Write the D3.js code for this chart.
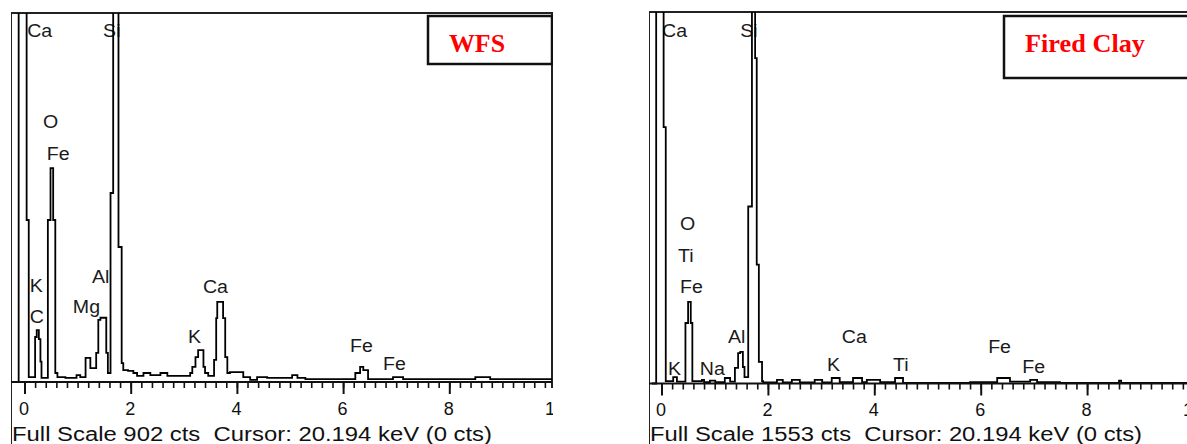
<!DOCTYPE html>
<html>
<head>
<meta charset="utf-8">
<script src="https://cdn.jsdelivr.net/npm/d3@7"></script>
<style>
  body { margin: 0; background: #fff; }
  svg { display: block; }
  .elem { font-family: "Liberation Sans", Arial, sans-serif; font-size: 17.5px; fill: #1a1a1a; }
  .footer { font-family: "Liberation Sans", Arial, sans-serif; font-size: 20px; fill: #111; white-space: pre; }
  .title { font-family: "Liberation Serif", "Times New Roman", serif; font-size: 26px; font-weight: bold; fill: #ff0000; }
</style>
</head>
<body>
<div id="chart"></div>
<script>
var svgWidth = 1187;
var svgHeight = 444;

// spectra: energy (keV) where each step starts, counts of that step
var wfsEnergy = [-0.17, -0.11, 0.04, 0.08, 0.20, 0.23, 0.27, 0.30, 0.32, 0.44,
  0.49, 0.54, 0.58, 0.62, 0.77, 0.98, 1.05, 1.15, 1.24, 1.35,
  1.39, 1.43, 1.54, 1.57, 1.62, 1.67, 1.77, 1.83, 1.86, 1.95,
  2.05, 2.12, 2.24, 2.37, 2.56, 2.69, 3.12, 3.16, 3.22, 3.27,
  3.37, 3.40, 3.46, 3.57, 3.61, 3.63, 3.74, 3.78, 3.82, 3.87,
  4.12, 4.25, 4.38, 4.57, 5.04, 5.14, 5.29, 6.23, 6.32, 6.38,
  6.47, 6.94, 7.13, 8.49, 8.77, 10.5];
var wfsCounts = [0, 3000, 396, 12, 110, 127, 105, 50, 10, 396,
  523, 396, 22, 12, 10, 17, 12, 59, 34, 71,
  152, 157, 71, 22, 462, 3000, 330, 46, 29, 27,
  22, 15, 22, 17, 22, 15, 22, 37, 61, 78,
  37, 22, 15, 54, 156, 196, 156, 61, 22, 24,
  12, 5, 12, 10, 17, 10, 7, 22, 37, 29,
  7, 12, 7, 12, 7, 7];

var clayEnergy = [-0.18, -0.10, 0.04, 0.08, 0.22, 0.29, 0.45, 0.50, 0.55, 0.58,
  0.76, 0.80, 0.91, 1.01, 1.19, 1.29, 1.38, 1.44, 1.48, 1.53,
  1.56, 1.63, 1.70, 1.76, 1.79, 1.83, 1.89, 1.91, 2.17, 2.28,
  2.45, 2.60, 2.88, 3.02, 3.20, 3.35, 3.60, 3.77, 3.86, 4.11,
  4.39, 4.54, 5.80, 6.31, 6.55, 6.93, 7.06, 7.49, 8.60, 8.64,
  10.5];
var clayCounts = [0, 5000, 1072, 10, 27, 8, 253, 341, 253, 10,
  15, 6, 12, 6, 23, 8, 65, 127, 132, 69,
  27, 740, 5000, 1360, 497, 90, 10, 5, 15, 5,
  15, 5, 15, 5, 23, 6, 23, 6, 15, 6,
  23, 3, 6, 23, 8, 15, 6, 2, 12, 2,
  2];

// element markers: text, energy (keV) of left edge, count level of baseline
var wfsLabels = ["Ca", "Si", "O", "Fe", "K", "C", "Mg", "Al", "K", "Ca", "Fe", "Fe"];
var wfsLabelKeV = [0.05, 1.48, 0.35, 0.42, 0.10, 0.10, 0.91, 1.27, 3.08, 3.36, 6.13, 6.75];
var wfsLabelCts = [843, 843, 621, 543, 220, 144, 169, 242, 95, 218, 73, 29];

var clayLabels = ["Ca", "Si", "O", "Ti", "Fe", "K", "Na", "Al", "Ca", "K", "Ti", "Fe", "Fe"];
var clayLabelKeV = [0.01, 1.48, 0.35, 0.31, 0.35, 0.12, 0.72, 1.25, 3.39, 3.11, 4.35, 6.14, 6.78];
var clayLabelCts = [1448, 1448, 642, 508, 378, 36, 36, 169, 169, 52, 52, 127, 44];

var majorTicks = [0, 2, 4, 6, 8, 10];
var minorTicks = d3.range(0, 10.001, 0.2);

var panels = [
  {
    id: "wfs", title: "WFS", fullScale: 902,
    energy: wfsEnergy, counts: wfsCounts,
    labels: wfsLabels, labelKeV: wfsLabelKeV, labelCts: wfsLabelCts,
    left: 11, right: 552, top: 13, axisY: 382, x0: 24.5, x10: 555.5,
    footerLen: 480, box: { x: 428, y: 16, w: 124, h: 48 }, titleX: 449, titleLen: 56
  },
  {
    id: "clay", title: "Fired Clay", fullScale: 1553,
    energy: clayEnergy, counts: clayCounts,
    labels: clayLabels, labelKeV: clayLabelKeV, labelCts: clayLabelCts,
    left: 649, right: 1190, top: 12, axisY: 383.5, x0: 661.5, x10: 1193.5,
    footerLen: 492, box: { x: 1004, y: 16, w: 190, h: 62 }, titleX: 1025, titleLen: 120
  }
];

var svg = d3.select("#chart")
  .append("svg")
  .attr("width", svgWidth)
  .attr("height", svgHeight);

var defs = svg.append("defs");

panels.forEach(function(p) {
  // whole panel clip (cuts the "10" tick label) and plot clip for the spectrum
  defs.append("clipPath").attr("id", "panel-" + p.id)
    .append("rect")
    .attr("x", p.left).attr("y", 0)
    .attr("width", p.right - p.left + 1).attr("height", svgHeight);
  defs.append("clipPath").attr("id", "plot-" + p.id)
    .append("rect")
    .attr("x", p.left + 1).attr("y", p.top)
    .attr("width", p.right - p.left - 1).attr("height", p.axisY - p.top + 4);

  var g = svg.append("g").attr("clip-path", "url(#panel-" + p.id + ")");

  var x = d3.scaleLinear().domain([0, 10]).range([p.x0, p.x10]);
  var y = d3.scaleLinear().domain([0, p.fullScale]).range([p.axisY, p.top]);

  // frame
  g.append("line")
    .attr("x1", p.left).attr("x2", p.right + 1)
    .attr("y1", p.top).attr("y2", p.top)
    .attr("stroke", "#222").attr("stroke-width", 2);
  g.append("line")
    .attr("x1", p.left).attr("x2", p.left)
    .attr("y1", p.top).attr("y2", svgHeight)
    .attr("stroke", "#222").attr("stroke-width", 2);
  g.append("line")
    .attr("x1", p.right).attr("x2", p.right)
    .attr("y1", p.top).attr("y2", p.axisY + 6)
    .attr("stroke", "#222").attr("stroke-width", 2);

  // element labels (the instrument font is a little wider than Arial)
  g.selectAll("text.elem")
    .data(p.labels)
    .enter()
    .append("text")
    .attr("class", "elem")
    .attr("transform", (d, i) => `translate(${x(p.labelKeV[i])}, ${y(p.labelCts[i])}) scale(1.12, 1)`)
    .text(d => d);

  // spectrum
  var points = p.energy.map((e, i) => ({ e: e, c: p.counts[i] }));
  var line = d3.line()
    .x(d => x(d.e))
    .y(d => y(d.c))
    .curve(d3.curveStepAfter);

  g.append("path")
    .datum(points)
    .attr("clip-path", "url(#plot-" + p.id + ")")
    .attr("fill", "none")
    .attr("stroke", "#000")
    .attr("stroke-width", 1.8)
    .attr("d", line);

  // axis line
  g.append("line")
    .attr("x1", p.left).attr("x2", p.right)
    .attr("y1", p.axisY).attr("y2", p.axisY)
    .attr("stroke", "#111").attr("stroke-width", 2);

  var minorAxis = d3.axisBottom(x)
    .tickValues(minorTicks)
    .tickSize(6)
    .tickFormat("");
  var minorG = g.append("g")
    .attr("transform", `translate(0, ${p.axisY})`)
    .call(minorAxis);
  minorG.select(".domain").remove();
  minorG.selectAll(".tick line").attr("stroke", "#111").attr("stroke-width", 1.6);

  var majorAxis = d3.axisBottom(x)
    .tickValues(majorTicks)
    .tickSize(12)
    .tickPadding(8)
    .tickFormat(d3.format("d"));
  var majorG = g.append("g")
    .attr("transform", `translate(0, ${p.axisY})`)
    .call(majorAxis);
  majorG.select(".domain").remove();
  majorG.selectAll(".tick line").attr("stroke", "#111").attr("stroke-width", 2);
  majorG.selectAll(".tick text")
    .attr("dx", -1)
    .attr("fill", "#111")
    .style("font-family", "'Liberation Sans', Arial, sans-serif")
    .style("font-size", "18px");

  // footer
  g.append("text")
    .attr("class", "footer")
    .attr("x", p.left + 1)
    .attr("y", 441)
    .attr("textLength", p.footerLen)
    .attr("lengthAdjust", "spacingAndGlyphs")
    .text("Full Scale " + p.fullScale + " cts  Cursor: 20.194 keV (0 cts)");

  // sample name box
  g.append("rect")
    .attr("x", p.box.x).attr("y", p.box.y)
    .attr("width", p.box.w).attr("height", p.box.h)
    .attr("fill", "#fff")
    .attr("stroke", "#111").attr("stroke-width", 2.5);
  g.append("text")
    .attr("class", "title")
    .attr("x", p.titleX)
    .attr("y", 52)
    .attr("textLength", p.titleLen)
    .attr("lengthAdjust", "spacingAndGlyphs")
    .text(p.title);
});
</script>
</body>
</html>
